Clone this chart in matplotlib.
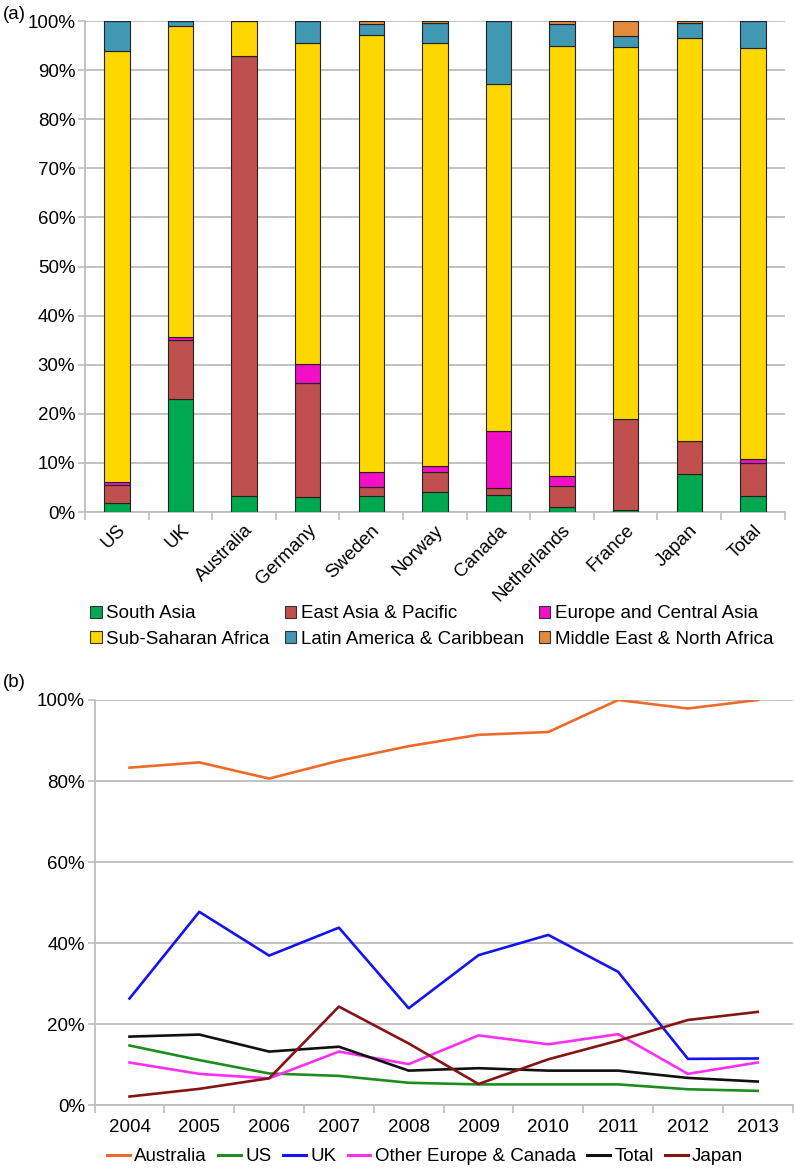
import numpy as np
import matplotlib
matplotlib.use("Agg")
import matplotlib.pyplot as plt
from matplotlib.patches import Patch
from matplotlib.lines import Line2D

plt.rcParams['font.family'] = ['Liberation Sans', 'DejaVu Sans']

# ---- panel (a): regional shares by donor ----
donors = ["US", "UK", "Australia", "Germany", "Sweden", "Norway", "Canada",
          "Netherlands", "France", "Japan", "Total"]
regions = ["South Asia", "East Asia & Pacific", "Europe and Central Asia",
           "Sub-Saharan Africa", "Latin America & Caribbean", "Middle East & North Africa"]
south_asia = [1.8, 23.0, 3.3, 3.0, 3.3, 4.1, 3.5, 1.0, 0.5, 7.7, 3.3]
east_asia = [3.8, 12.1, 89.5, 23.3, 1.8, 4.1, 1.3, 4.4, 18.4, 6.7, 6.7]
europe_ca = [0.6, 0.5, 0.0, 3.9, 3.1, 1.1, 11.7, 2.0, 0.0, 0.1, 0.8]
ss_africa = [87.8, 63.3, 7.2, 65.4, 88.9, 86.3, 70.6, 87.6, 75.9, 82.1, 83.8]
latin_am = [6.0, 1.1, 0.0, 4.4, 2.2, 4.1, 12.9, 4.4, 2.1, 2.9, 5.4]
mena = [0.0, 0.0, 0.0, 0.0, 0.7, 0.3, 0.0, 0.6, 3.1, 0.5, 0.0]
stack = [south_asia, east_asia, europe_ca, ss_africa, latin_am, mena]
bar_colors = ["#00A94F", "#C0504D", "#F20FC6", "#FFD700", "#4198B2", "#E48A3C"]

# ---- panel (b): share over time ----
years = [2004, 2005, 2006, 2007, 2008, 2009, 2010, 2011, 2012, 2013]
australia = [83.3, 84.6, 80.6, 85.0, 88.6, 91.4, 92.1, 100.0, 97.9, 100.0]
us = [14.7, 11.1, 7.8, 7.2, 5.5, 5.1, 5.1, 5.1, 3.9, 3.5]
uk = [26.3, 47.7, 36.9, 43.8, 23.9, 37.0, 42.0, 32.9, 11.4, 11.5]
other_eu = [10.5, 7.7, 6.6, 13.2, 10.1, 17.2, 15.0, 17.5, 7.7, 10.5]
total = [16.9, 17.4, 13.2, 14.4, 8.5, 9.1, 8.5, 8.5, 6.7, 5.8]
japan = [2.1, 4.0, 6.6, 24.3, 15.2, 5.2, 11.3, 15.9, 21.0, 23.0]
series = [("Australia", australia, "#EF6A2A"), ("US", us, "#1E8C1E"),
          ("UK", uk, "#1414EE"), ("Other Europe & Canada", other_eu, "#FF2EF5"),
          ("Total", total, "#111111"), ("Japan", japan, "#841515")]

grid_c = "#BDBDBD"
fs = 13.5
fig = plt.figure(figsize=(7.95, 11.69), dpi=100)

ax1 = fig.add_axes([0.107, 0.562, 0.880, 0.420])
x = np.arange(len(donors))
bottom = np.zeros(len(donors))
for vals, col in zip(stack, bar_colors):
    ax1.bar(x, vals, width=0.4, bottom=bottom, color=col, edgecolor="#222222",
            linewidth=0.8, zorder=3)
    bottom += np.array(vals)
ax1.set_xlim(-0.5, len(donors) - 0.5)
ax1.set_ylim(0, 100)
ax1.set_yticks(np.arange(0, 101, 10))
ax1.set_yticklabels([f"{v}%" for v in range(0, 101, 10)], fontsize=fs)
ax1.set_xticks(x)
ax1.set_xticklabels(donors, rotation=45, ha="right", rotation_mode="anchor", fontsize=fs)
ax1.set_xticks(np.arange(-0.5, len(donors)), minor=True)
ax1.tick_params(axis="x", which="major", length=0, pad=7)
ax1.tick_params(axis="x", which="minor", length=6, color=grid_c, width=1.2)
ax1.tick_params(axis="y", length=5, color=grid_c, width=1.2, pad=2)
ax1.grid(axis="y", color=grid_c, linewidth=1.3, zorder=0)
for s in ["top", "right"]:
    ax1.spines[s].set_visible(False)
for s in ["left", "bottom"]:
    ax1.spines[s].set_color(grid_c)
    ax1.spines[s].set_linewidth(1.3)

handles = [Patch(facecolor=c, edgecolor="#333333", linewidth=0.8, label=r)
           for r, c in zip(regions, bar_colors)]
order = [0, 3, 1, 4, 2, 5]
fig.legend([handles[i] for i in order], [regions[i] for i in order], ncol=3,
           loc="center", bbox_to_anchor=(0.543, 0.464), frameon=False, fontsize=fs,
           handlelength=0.6, handleheight=0.6, handletextpad=0.25, columnspacing=0.8,
           labelspacing=0.45)

fig.text(0.003, 0.988, "(a)", fontsize=fs, va="center")
fig.text(0.003, 0.416, "(b)", fontsize=fs, va="center")

ax2 = fig.add_axes([0.119, 0.0547, 0.878, 0.3465])
xi = np.arange(len(years))
for name, vals, col in series:
    ax2.plot(xi, vals, color=col, linewidth=1.9, label=name, zorder=3)
ax2.set_xlim(-0.5, len(years) - 0.5)
ax2.set_ylim(0, 100)
ax2.set_yticks(np.arange(0, 101, 20))
ax2.set_yticklabels([f"{v}%" for v in range(0, 101, 20)], fontsize=fs)
ax2.set_xticks(xi)
ax2.set_xticklabels([str(y) for y in years], fontsize=fs)
ax2.set_xticks(np.arange(-0.5, len(years)), minor=True)
ax2.tick_params(axis="x", which="major", length=0, pad=10)
ax2.tick_params(axis="x", which="minor", length=6, color=grid_c, width=1.2)
ax2.tick_params(axis="y", length=5, color=grid_c, width=1.2, pad=2)
ax2.grid(axis="y", color=grid_c, linewidth=1.3, zorder=0)
for s in ["top", "right"]:
    ax2.spines[s].set_visible(False)
for s in ["left", "bottom"]:
    ax2.spines[s].set_color(grid_c)
    ax2.spines[s].set_linewidth(1.3)

fig.legend(handles=[Line2D([], [], color=c, linewidth=2.2) for _, _, c in series],
           labels=[n for n, _, _ in series], ncol=6, loc="center",
           bbox_to_anchor=(0.535, 0.0105), frameon=False, fontsize=fs,
           handlelength=1.2, handletextpad=0.25, columnspacing=0.6)

fig.savefig("out.png", dpi=100)
